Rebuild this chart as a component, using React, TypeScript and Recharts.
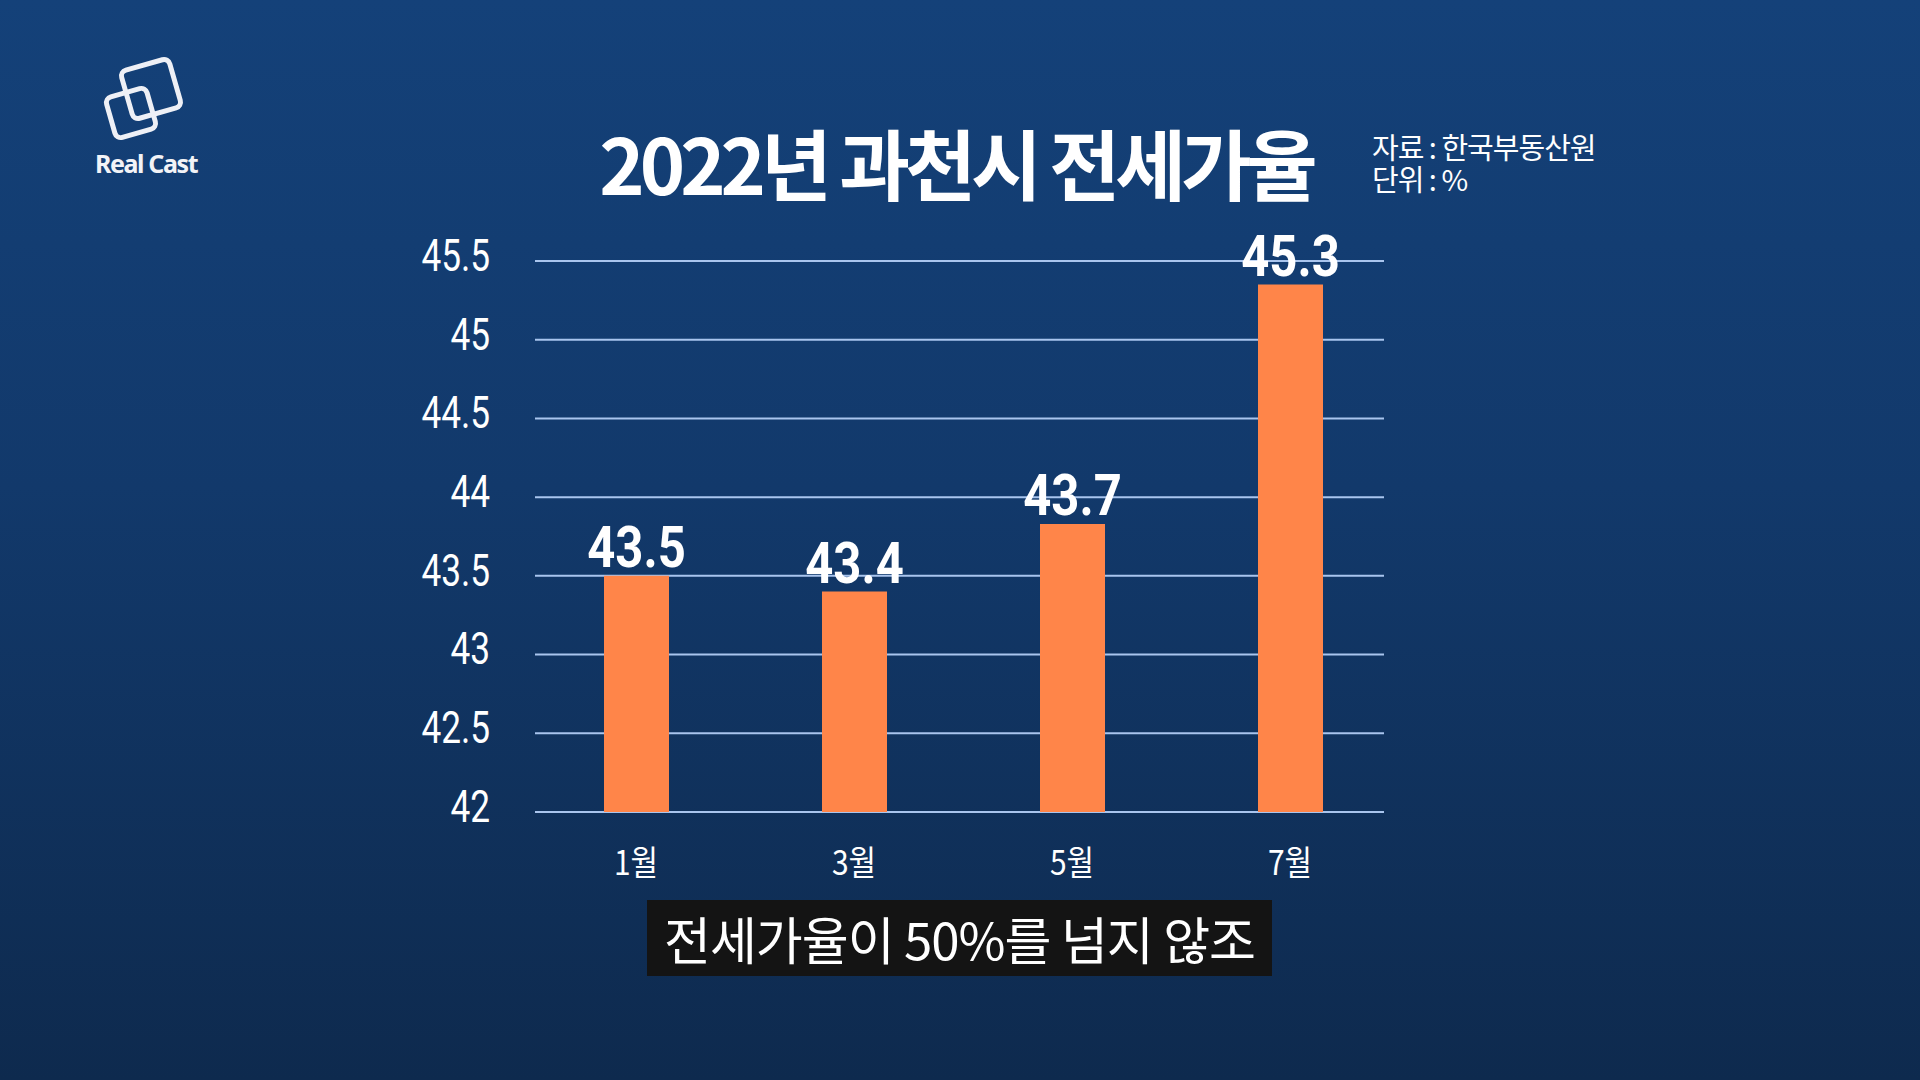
import { BarChart, Bar, XAxis, YAxis, CartesianGrid, LabelList } from 'recharts'

const months = ['1월', '3월', '5월', '7월']
// bar heights as drawn in the source graphic (the 5월/7월 bars sit a bit above their printed values)
const barHeights = [43.5, 43.4, 43.83, 45.35]
// values printed over the bars
const printedValues = ['43.5', '43.4', '43.7', '45.3']
const yTicks = [42, 42.5, 43, 43.5, 44, 44.5, 45, 45.5]

const data = months.map((month, i) => ({ month, value: barHeights[i], label: printedValues[i] }))

const GRID_COLOR = '#a9c5ee'
const BAR_COLOR = '#ff8549'

function YTick({ x, y, payload }: any) {
  return (
    <g transform={`translate(${x},${y - 6})`}>
      <text transform="scale(0.8,1)" textAnchor="end" dy="0.36em" fill="#ffffff" fontSize={44} fontFamily="Roboto, sans-serif">
        {payload.value}
      </text>
    </g>
  )
}

function XTick({ x, y, payload }: any) {
  return (
    <g transform={`translate(${x},${y})`}>
      <text transform="scale(0.88,1)" dy="0.8em" textAnchor="middle" fill="#ffffff" fontSize={34} fontFamily="'Noto Sans CJK KR', sans-serif">
        {payload.value}
      </text>
    </g>
  )
}

function ValueLabel({ x, y, width, value }: any) {
  return (
    <g transform={`translate(${x + width / 2},${y - 9})`}>
      <text transform="scale(0.86,1)" textAnchor="middle" fill="#ffffff" fontSize={57} fontWeight={700} fontFamily="Roboto, sans-serif">
        {value}
      </text>
    </g>
  )
}

// grid lines in the reference stop a little short of the bar bands
function GridLine(p: any) {
  return <line key={`h-${p.index}`} x1={p.x1 + 8} x2={p.x2 - 15} y1={p.y1} y2={p.y2} stroke={GRID_COLOR} strokeWidth={2} />
}

function Logo() {
  return (
    <div style={{ position: 'absolute', left: 90, top: 54, width: 120, height: 130 }}>
      <svg width={120} height={100}>
        <rect x={36} y={10} width={50} height={50} rx={6} fill="none" stroke="#eef0f6" strokeWidth={5} transform="rotate(-16 61 35)" />
        <rect x={20} y={38} width={42} height={42} rx={6} fill="none" stroke="#eef0f6" strokeWidth={5} transform="rotate(-16 41 59)" />
      </svg>
      <div style={{ position: 'absolute', left: 5, top: 92, fontFamily: "'Noto Sans', sans-serif", fontWeight: 700, fontSize: 25, color: '#f2f3f7', letterSpacing: -1.4, whiteSpace: 'nowrap' }}>
        Real Cast
      </div>
    </div>
  )
}

export default function App() {
  return (
    <div
      style={{
        position: 'absolute',
        left: 0,
        top: 0,
        width: 1920,
        height: 1080,
        overflow: 'hidden',
        background: 'linear-gradient(180deg, #144179 0%, #12396b 45%, #0e2a4e 100%)',
      }}
    >
      <Logo />

      <div
        style={{
          position: 'absolute',
          left: 598,
          width: 716,
          top: 116,
          textAlign: 'center',
          fontFamily: "'Noto Sans CJK KR', sans-serif",
          fontWeight: 700,
          fontSize: 77,
          lineHeight: '92px',
          letterSpacing: -5,
          color: '#ffffff',
          whiteSpace: 'nowrap',
        }}
      >
        2022년 과천시 전세가율
      </div>

      <div
        style={{
          position: 'absolute',
          left: 1372,
          top: 130,
          fontFamily: "'Noto Sans CJK KR', sans-serif",
          fontSize: 29,
          lineHeight: '32px',
          letterSpacing: -1,
          color: '#ffffff',
          whiteSpace: 'nowrap',
        }}
      >
        <div>자료 : 한국부동산원</div>
        <div>단위 : %</div>
      </div>

      <BarChart
        width={1920}
        height={1080}
        data={data}
        margin={{ top: 261, right: 521, bottom: 208, left: 427 }}
        style={{ position: 'absolute', left: 0, top: 0 }}
      >
        <CartesianGrid vertical={false} horizontal={GridLine} />
        <XAxis dataKey="month" axisLine={false} tickLine={false} tickSize={0} tickMargin={36} height={60} tick={<XTick />} interval={0} />
        <YAxis
          type="number"
          domain={[42, 45.5]}
          ticks={yTicks}
          interval={0}
          axisLine={false}
          tickLine={false}
          tickSize={0}
          tickMargin={37}
          width={100}
          tick={<YTick />}
        />
        <Bar dataKey="value" fill={BAR_COLOR} barSize={65} isAnimationActive={false}>
          <LabelList dataKey="label" position="top" content={<ValueLabel />} />
        </Bar>
      </BarChart>

      <div
        style={{
          position: 'absolute',
          left: 647,
          top: 900,
          width: 625,
          height: 76,
          background: '#141414',
          color: '#ffffff',
          fontFamily: "'Noto Sans CJK KR', sans-serif",
          fontSize: 51,
          lineHeight: '76px',
          letterSpacing: -1,
          textAlign: 'center',
          whiteSpace: 'nowrap',
        }}
      >
        전세가율이 50%를 넘지 않조
      </div>
    </div>
  )
}
